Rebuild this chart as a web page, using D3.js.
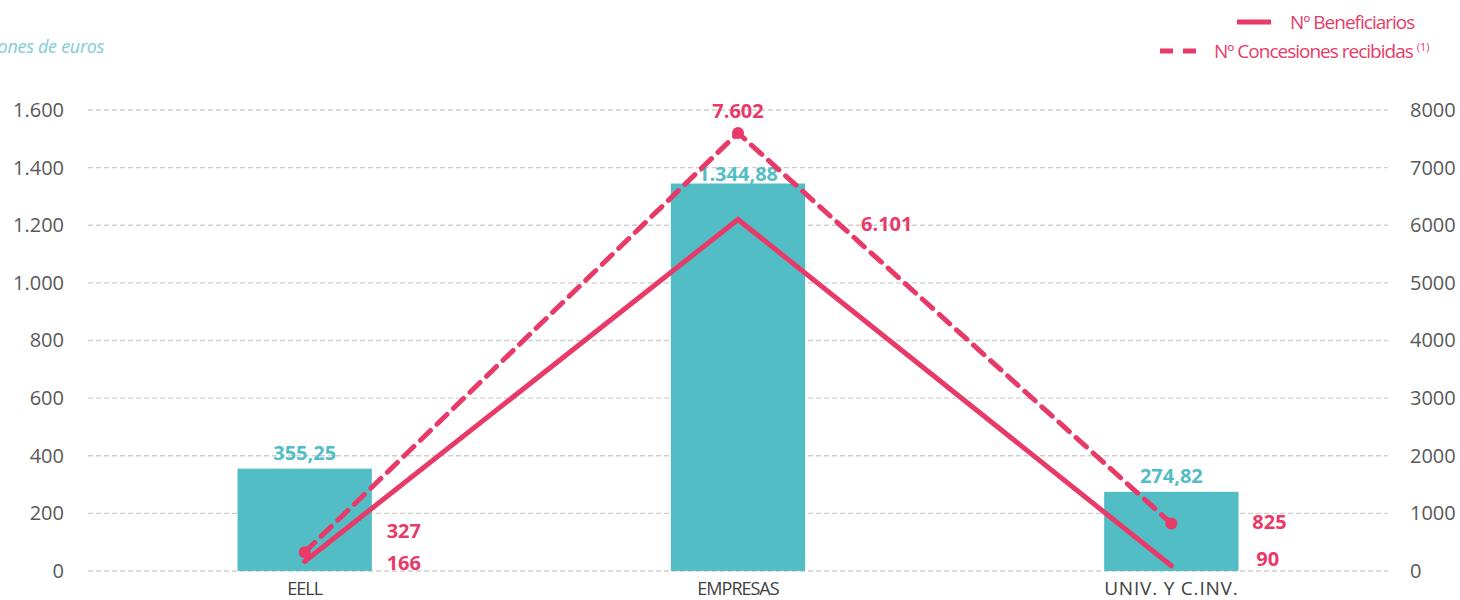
<!DOCTYPE html>
<html>
<head>
<meta charset="utf-8">
<script src="https://cdn.jsdelivr.net/npm/d3@7"></script>
<style>
  body { margin: 0; background: #fff; }
  svg { display: block; }
  .tick text { font-family: 'Open Sans', sans-serif; font-size: 20px; fill: #595959; }
</style>
</head>
<body>
<div id="chart"></div>
<script>
const categories = ['EELL', 'EMPRESAS', 'UNIV. Y C.INV.']
const importe = [355.25, 1344.88, 274.82]
const beneficiarios = [166, 6101, 90]
const concesiones = [327, 7602, 825]
const leftTicks = [0, 200, 400, 600, 800, 1000, 1200, 1400, 1600]
const rightTicks = [0, 1000, 2000, 3000, 4000, 5000, 6000, 7000, 8000]

const teal = '#53bdc5'
const pink = '#e83a68'

const width = 1460, height = 600
const margin = { top: 110, right: 72, bottom: 29, left: 88 }
const w = width - margin.left - margin.right
const h = height - margin.top - margin.bottom

const svg = d3.select('#chart').append('svg')
    .attr('width', width)
    .attr('height', height)

const g = svg.append('g')
    .attr('transform', 'translate(' + margin.left + ',' + margin.top + ')')

const x = d3.scaleBand().domain(categories).range([0, w])
const yL = d3.scaleLinear().domain([0, 1600]).range([h, 0])
const yR = d3.scaleLinear().domain([0, 8000]).range([h, 0])

const esNum = d3.formatLocale({ decimal: ',', thousands: '.', grouping: [3] })
const fmtInt = esNum.format(',d')
const fmtDec = esNum.format(',.2f')

// gridlines
g.append('g').selectAll('line')
    .data(leftTicks)
    .enter().append('line')
    .attr('x1', 0).attr('x2', w)
    .attr('y1', d => yL(d)).attr('y2', d => yL(d))
    .attr('stroke', '#d0d0d0')
    .attr('stroke-width', 1.3)
    .attr('stroke-dasharray', '5,3')

// axes
const axL = g.append('g')
    .call(d3.axisLeft(yL).tickValues(leftTicks).tickFormat(fmtInt).tickSize(0).tickPadding(24))
axL.select('.domain').remove()
const axR = g.append('g')
    .attr('transform', 'translate(' + w + ',0)')
    .call(d3.axisRight(yR).tickValues(rightTicks).tickFormat(d3.format('d')).tickSize(0).tickPadding(22))
axR.select('.domain').remove()

// category labels
g.append('g').selectAll('text')
    .data(categories)
    .enter().append('text')
    .attr('x', d => x(d) + x.bandwidth() / 2)
    .attr('y', h + 24)
    .attr('text-anchor', 'middle')
    .style('font-family', "'Open Sans', sans-serif")
    .style('font-size', (d, i) => i < 2 ? '18px' : '19px')
    .style('letter-spacing', (d, i) => i < 2 ? '-1px' : '0.8px')
    .attr('fill', '#404040')
    .text(d => d)

// bars
const barW = x.bandwidth() * 0.31
g.append('g').selectAll('rect')
    .data(importe)
    .enter().append('rect')
    .attr('x', (d, i) => x(categories[i]) + x.bandwidth() / 2 - barW / 2)
    .attr('y', d => yL(d))
    .attr('width', barW)
    .attr('height', d => h - yL(d))
    .attr('fill', teal)

g.append('g').selectAll('text')
    .data(importe)
    .enter().append('text')
    .attr('x', (d, i) => x(categories[i]) + x.bandwidth() / 2)
    .attr('y', (d, i) => yL(d) - (i === 1 ? 3 : 9))
    .attr('text-anchor', 'middle')
    .style('font-family', "'Open Sans', sans-serif")
    .style('font-size', '20px')
    .style('font-weight', 'bold')
    .attr('fill', teal)
    .text(d => fmtDec(d))

// lines
const cx = (d, i) => x(categories[i]) + x.bandwidth() / 2
const line = d3.line().x(cx).y(d => yR(d))

g.append('path')
    .datum(beneficiarios)
    .attr('d', line)
    .attr('fill', 'none')
    .attr('stroke', pink)
    .attr('stroke-width', 5)
    .attr('stroke-linecap', 'round')
    .attr('stroke-linejoin', 'miter')

g.append('path')
    .datum(concesiones)
    .attr('d', line)
    .attr('fill', 'none')
    .attr('stroke', pink)
    .attr('stroke-width', 5)
    .attr('stroke-dasharray', '14,9')
    .attr('stroke-linecap', 'round')

g.append('g').selectAll('circle')
    .data(concesiones)
    .enter().append('circle')
    .attr('cx', cx)
    .attr('cy', d => yR(d))
    .attr('r', 6)
    .attr('fill', pink)

// line labels (manual Excel-like placement)
const benOffset = [[82, 9], [123, 12], [85, 0]]
const conOffset = [[82, -14], [0, -15], [81, 6]]
const labelStyle = sel => sel
    .style('font-family', "'Open Sans', sans-serif")
    .style('font-size', '20px')
    .style('font-weight', 'bold')
    .attr('fill', pink)

g.append('g').selectAll('text')
    .data(beneficiarios)
    .enter().append('text')
    .attr('x', (d, i) => cx(d, i) + benOffset[i][0])
    .attr('y', (d, i) => yR(d) + benOffset[i][1])
    .call(labelStyle)
    .text(d => fmtInt(d))

g.append('g').selectAll('text')
    .data(concesiones)
    .enter().append('text')
    .attr('x', (d, i) => cx(d, i) + conOffset[i][0])
    .attr('y', (d, i) => yR(d) + conOffset[i][1])
    .attr('text-anchor', (d, i) => i === 1 ? 'middle' : 'start')
    .call(labelStyle)
    .text(d => fmtInt(d))

// axis title (clipped at the left edge like the original)
svg.append('text')
    .attr('x', 104)
    .attr('y', 53)
    .attr('text-anchor', 'end')
    .style('font-family', "'Open Sans', sans-serif")
    .style('font-size', '18px')
    .style('font-style', 'italic')
    .style('letter-spacing', '-0.3px')
    .attr('fill', '#7fcdd5')
    .text('Millones  de euros')

// legend
const legend = svg.append('g')
legend.append('line')
    .attr('x1', 1237).attr('x2', 1271)
    .attr('y1', 22).attr('y2', 22)
    .attr('stroke', pink).attr('stroke-width', 5)
legend.append('text')
    .attr('x', 1290).attr('y', 29)
    .style('font-family', "'Open Sans', sans-serif")
    .style('font-size', '19px')
    .style('letter-spacing', '-1px')
    .attr('fill', pink)
    .text('Nº Beneficiarios')
legend.append('line')
    .attr('x1', 1160).attr('x2', 1197)
    .attr('y1', 51).attr('y2', 51)
    .attr('stroke', pink).attr('stroke-width', 5)
    .attr('stroke-dasharray', '13,10')
const t2 = legend.append('text')
    .attr('x', 1214).attr('y', 58)
    .style('font-family', "'Open Sans', sans-serif")
    .style('font-size', '19px')
    .style('letter-spacing', '-1px')
    .attr('fill', pink)
t2.append('tspan').text('Nº Concesiones recibidas ')
t2.append('tspan')
    .attr('dy', -7)
    .style('font-size', '11px')
    .style('letter-spacing', '0px')
    .text('(1)')
</script>
</body>
</html>
